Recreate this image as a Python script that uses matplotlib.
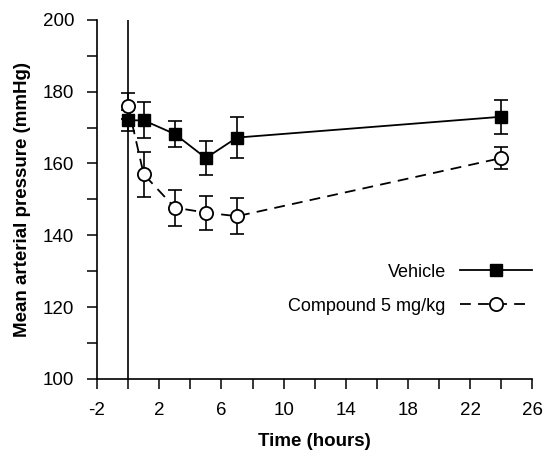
import numpy as np
import matplotlib
matplotlib.use("Agg")
import matplotlib.pyplot as plt
from matplotlib.ticker import MultipleLocator

plt.rcParams['font.family'] = ['Liberation Sans', 'DejaVu Sans']
plt.rcParams['axes.unicode_minus'] = False

# time points (hours) and mean arterial pressure (mmHg)
hours = [0, 1, 3, 5, 7, 24]
vehicle = [172, 172, 168.2, 161.5, 167.2, 173]
vehicle_err = [3, 5, 3.5, 4.8, 5.8, 4.7]
compound = [176, 157, 147.7, 146.3, 145.3, 161.5]
compound_err = [3.5, 6.3, 5, 4.7, 5, 3]
labels = ['Vehicle', 'Compound 5 mg/kg']

fig = plt.figure(figsize=(5.45, 4.5), dpi=100)
ax = fig.add_axes([0.178, 0.158, 0.799, 0.798])

ax.axvline(0, color='black', lw=1.2, zorder=1)

# error bars first, then lines with markers on top
ax.errorbar(hours, vehicle, yerr=vehicle_err, fmt='none', ecolor='black',
            elinewidth=1.2, capsize=5, capthick=1.2, zorder=2)
ax.errorbar(hours, compound, yerr=compound_err, fmt='none', ecolor='black',
            elinewidth=1.2, capsize=5, capthick=1.2, zorder=2)
l1, = ax.plot(hours, vehicle, '-', color='black', lw=1.3, marker='s',
              ms=9, mfc='black', mec='black', zorder=3)
l2, = ax.plot(hours, compound, '--', color='black', lw=1.3, marker='o',
              ms=9.5, mfc='white', mec='black', mew=1.3, dashes=(6, 4), zorder=3)

ax.set_xlim(-2, 26)
ax.set_ylim(100, 200)
ax.xaxis.set_minor_locator(MultipleLocator(2))
ax.set_xticks(np.arange(-2, 27, 4))
ax.yaxis.set_major_locator(MultipleLocator(20))
ax.yaxis.set_minor_locator(MultipleLocator(10))
ax.tick_params(which='both', direction='out', length=7.5, width=1.1,
               labelsize=13.5, pad=9)

for side in ['top', 'right']:
    ax.spines[side].set_visible(False)
for side in ['left', 'bottom']:
    ax.spines[side].set_linewidth(1.2)

ax.set_xlabel('Time (hours)', fontsize=13.5, fontweight='bold', labelpad=10)
ax.set_ylabel('Mean arterial pressure (mmHg)', fontsize=13.5,
              fontweight='bold', labelpad=8)

ax.legend([l1, l2], labels, loc='center right', bbox_to_anchor=(1.0, 0.25),
          frameon=False, markerfirst=False, handlelength=4.0,
          labelspacing=0.95, borderaxespad=0, borderpad=0, handletextpad=0.8,
          prop={'size': 13})

fig.savefig('out.png', dpi=100)
